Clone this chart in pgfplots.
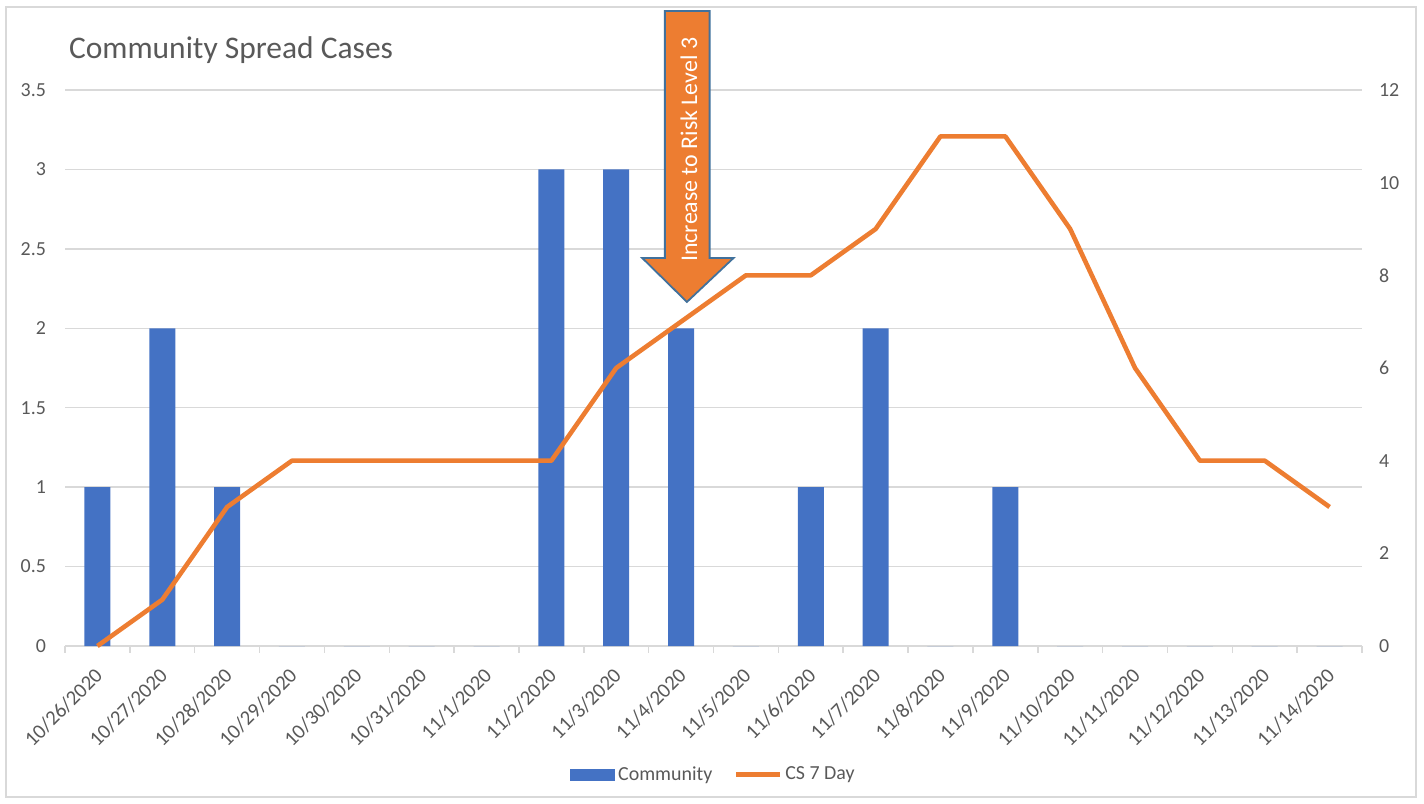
\documentclass[border=0pt]{standalone}
\usepackage{fontspec}
\setmainfont{Carlito}
\usepackage{pgfplots}
\usepackage{pgfplotstable}
\pgfplotsset{compat=1.18}
\definecolor{barblue}{HTML}{4472C4}
\definecolor{lineorange}{HTML}{ED7D31}
\definecolor{gridgrey}{HTML}{D9D9D9}
\definecolor{textgrey}{HTML}{595959}
\definecolor{arrowedge}{HTML}{41719C}

\pgfplotstableread{
x bars cs
0 1 0
1 2 1
2 1 3
3 0 4
4 0 4
5 0 4
6 0 4
7 3 4
8 3 6
9 2 7
10 0 8
11 1 8
12 2 9
13 0 11
14 1 11
15 0 9
16 0 6
17 0 4
18 0 4
19 0 3
}\datatable

\begin{document}
\begin{tikzpicture}
\useasboundingbox (-32.5bp,-79bp) rectangle (679.5bp,323bp);
\draw[gridgrey, line width=0.75bp] (-29.5bp,-75.5bp) rectangle (675.5bp,319.5bp);
\begin{axis}[
  at={(0,0)}, anchor=south west, scale only axis,
  width=648.5bp, height=278bp,
  xmin=-0.5, xmax=19.5, ymin=0, ymax=3.5,
  ytick={0,0.5,1,1.5,2,2.5,3,3.5},
  yticklabels={0,0.5,1,1.5,2,2.5,3,3.5},
  ymajorgrids, grid style={gridgrey, line width=0.75bp},
  xtick={0,...,19},
  xticklabels={10/26/2020,10/27/2020,10/28/2020,10/29/2020,10/30/2020,10/31/2020,11/1/2020,11/2/2020,11/3/2020,11/4/2020,11/5/2020,11/6/2020,11/7/2020,11/8/2020,11/9/2020,11/10/2020,11/11/2020,11/12/2020,11/13/2020,11/14/2020},
  minor xtick={-0.5,0.5,1.5,2.5,3.5,4.5,5.5,6.5,7.5,8.5,9.5,10.5,11.5,12.5,13.5,14.5,15.5,16.5,17.5,18.5,19.5},
  major tick length=0pt, minor tick length=3.5bp,
  tick align=outside, xtick pos=bottom, ytick pos=left,
  minor tick style={gridgrey, line width=0.75bp},
  y axis line style={draw=none},
  x axis line style={gridgrey, line width=0.75bp},
  tick label style={font=\fontsize{10}{11}\selectfont, text=textgrey},
  /pgf/number format/assume math mode=true,
  xticklabel style={xshift=-2bp, yshift=-10bp, rotate=45, anchor=north east, inner sep=0pt, font=\fontsize{10.4}{11}\selectfont},
  yticklabel style={xshift=-6bp},
  clip=false,
]
\addplot[ybar, bar width=13bp, fill=barblue, draw=none] table[x=x, y=bars]{\datatable};
\end{axis}
\begin{axis}[
  at={(0,0)}, anchor=south west, scale only axis,
  width=648.5bp, height=278bp,
  xmin=-0.5, xmax=19.5, ymin=0, ymax=12,
  axis x line=none, axis y line*=right,
  y axis line style={draw=none},
  ytick={0,2,4,6,8,10,12},
  major tick length=0pt,
  tick label style={font=\fontsize{10}{11}\selectfont, text=textgrey},
  /pgf/number format/assume math mode=true,
  yticklabel style={xshift=5bp},
  clip=false,
  legend style={at={(0.5004,-0.232)}, anchor=center, draw=none, fill=none,
    legend columns=2, font=\fontsize{10}{12}\selectfont, text=textgrey,
    /tikz/every even column/.append style={column sep=9bp},
    nodes={inner sep=1.5bp}, inner sep=0pt, cells={anchor=west}},
]
\addlegendimage{legend image code/.code={\fill[barblue] (0bp,-2.75bp) rectangle (22bp,2.75bp);}}
\addlegendentry{Community}
\addplot[lineorange, line width=2.3bp, line join=round, mark=none,
  legend image code/.code={\draw[lineorange, line width=2.5bp] (0bp,0bp) -- (22bp,0bp);}]
  table[x=x, y=cs]{\datatable};
\addlegendentry{CS 7 Day}
\draw[fill=lineorange, draw=arrowedge, line width=0.9bp, line join=miter]
  (axis cs:8.75,13.706) -- (axis cs:9.44,13.706) -- (axis cs:9.44,8.375)
  -- (axis cs:9.81,8.375) -- (axis cs:9.09,7.425) -- (axis cs:8.40,8.375)
  -- (axis cs:8.75,8.375) -- cycle;
\node[rotate=90, text=white, font=\fontsize{12}{14}\selectfont, anchor=center]
  at (axis cs:9.12,10.71) {Increase to Risk Level 3};
\end{axis}
\node[anchor=west, text=textgrey, font=\fontsize{15.8}{19}\selectfont] at (-1.5bp,298bp) {Community Spread Cases};
\end{tikzpicture}
\end{document}
